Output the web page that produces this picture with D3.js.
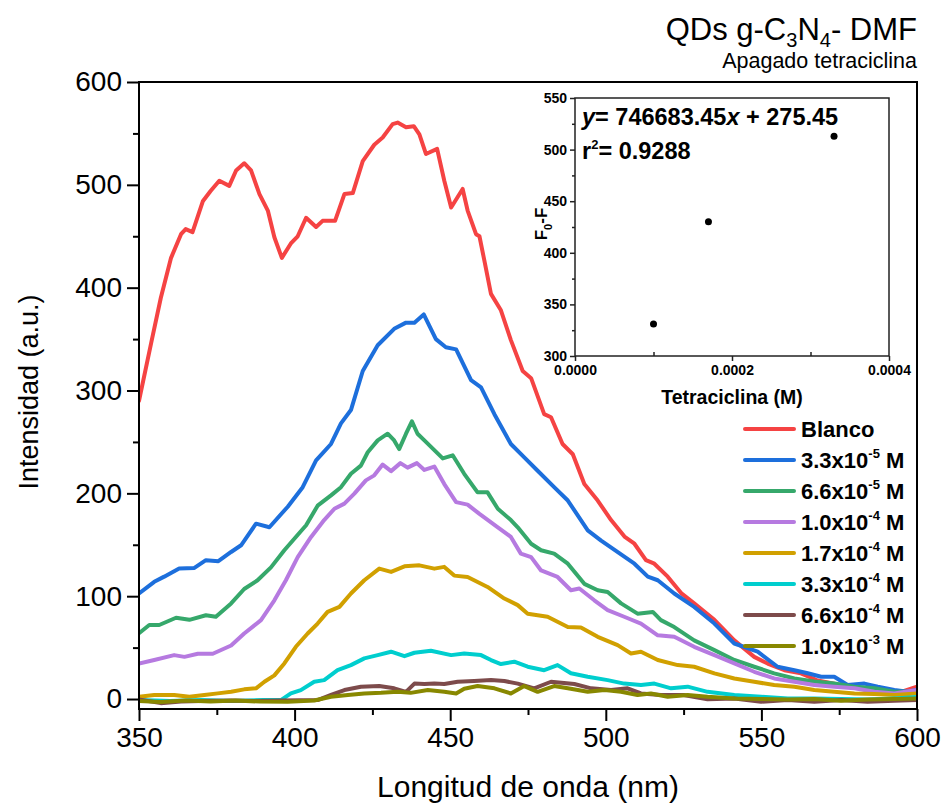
<!DOCTYPE html>
<html>
<head>
<meta charset="utf-8">
<script src="https://cdn.jsdelivr.net/npm/d3@7"></script>
<style>
  body { margin: 0; background: #fff; }
  svg { display: block; font-family: "Liberation Sans", Arial, sans-serif; }
</style>
</head>
<body>
<div id="chart"></div>
<script>
// series: [wavelength nm, intensity]
const blanco = [[350,290],[353.9,346],[357,390],[360.3,429],[363.5,452],[365,457],[367.2,454],[370.5,484],[373,494],[375.8,504],[379,499],[381.2,514],[383.8,521],[386,514],[388.7,491],[391.4,475],[393.5,449],[395.9,429],[398.8,443],[401,450],[403.7,468],[406.9,459],[409,465],[413,465],[416,491],[418.7,492],[421.9,523],[425.6,539],[428.3,546],[431.5,559],[433.1,560.5],[435.8,556],[438.3,557],[440.1,549],[442.2,530],[445.8,535],[448.1,504],[450.3,478],[454,496],[455.6,475],[458.3,452],[459.4,450],[461,426],[463.1,394],[466.3,378],[469.5,349],[473.3,319],[476,312],[480.2,277],[482.4,274],[486.1,248],[489.4,238],[493.1,209],[497.4,193],[501.7,174],[506,158],[509.2,151],[512.9,135],[515.6,131.6],[519.9,119],[524.2,103],[528.4,93],[534.9,77],[541.3,57],[547.7,41],[552,34.5],[557.4,28],[562.7,25],[568.1,18],[573.4,15],[578.8,12],[584.1,10],[589.5,7],[594.9,7],[600,12]];
const c33e5 = [[350,102.6],[354.9,114],[358.1,119],[362.9,127],[367.8,127.5],[371.5,135],[375.5,134],[379.6,143],[382.8,149.5],[387.6,170.5],[391.9,167],[397.8,187],[402.6,206],[406.9,232],[411.7,248],[414.9,268],[418.1,281],[421.9,319],[426.7,344],[432,360],[435.8,366],[438.5,366],[441.5,374],[445.4,350],[448.6,342],[451.9,340],[456.7,310],[459.9,303],[464.2,277],[469.5,248],[473.8,235],[478.1,222],[483.4,206],[487.8,193],[494.2,164],[498.5,154],[502.8,145],[509.2,131.6],[513.5,119],[516.7,115.5],[522,102.6],[528.4,89.6],[534.9,73.4],[541.3,54],[548.8,46],[555.2,31.4],[560.6,28],[564.9,25],[569.2,21.7],[573.4,21.7],[577.7,13.6],[583.1,15],[587.4,12],[592.7,8.7],[597,7],[600,9]];
const c66e5 = [[350,64],[353.3,72],[356.5,72],[361.9,79],[366.2,77],[371.5,81.5],[374.7,80],[379.6,93],[383.8,107],[388.1,115.5],[392.4,128],[396.7,144.7],[400.4,157.6],[403.7,169],[407.4,188],[411.7,198],[414.9,206],[418.1,219],[421.3,227],[423.5,240],[426.7,251.5],[429.9,258],[432,251.5],[433.6,243],[435.8,258],[437.7,270],[439.5,258],[441.7,251.5],[444.9,242],[447.6,234],[450.8,237],[454.5,219],[458.8,201],[462,201],[465.3,185],[469.5,174],[471.7,167],[476,151],[479.2,144.7],[483.4,141.4],[487.8,131.6],[493.1,112],[497.4,105.8],[500.6,104],[504.9,93],[510.2,83],[515.1,84.7],[517.7,76.7],[522,70],[528.4,57],[534.9,47.6],[541.3,38],[547.7,31.4],[554.1,25],[560.6,20],[567,17],[573.4,15],[579.9,12],[586.3,10.4],[592.7,7],[600,7]];
const c10e4 = [[350,34.6],[354.9,38],[361.3,42.7],[364.6,41],[368.9,44],[373.7,44],[379.6,52],[383.8,63.7],[389.2,76.7],[393.5,96],[397.2,115.5],[401,138],[405.3,157.6],[409.5,174],[412.8,185],[416,190],[419.2,199.7],[422.9,212.6],[425.6,217.5],[428.3,228],[431,221.6],[434,229.4],[436.3,225],[439.3,229.4],[441.7,222.8],[444.9,226],[448.1,209],[451.9,191.5],[455.6,189],[459.4,180],[465.3,167],[469.5,157.6],[472.7,141.4],[476,138],[479.2,125],[484.5,118.7],[488.8,105.8],[491.5,107.5],[496.3,96],[500.6,86.4],[505.9,80],[511.3,73.4],[516.7,62],[522,60.5],[528.4,50.8],[534.9,42.7],[541.3,34.6],[547.7,26.5],[554.1,20],[560.6,16.8],[567,13.6],[573.4,12],[579.9,10.4],[586.3,7],[592.7,5.4],[600,8.7]];
const c17e4 = [[350,2.2],[354.9,4],[361.3,4],[366.2,2.2],[371,4],[375.3,5.5],[379.6,7],[383.8,9.4],[387.6,10.4],[390.3,16.8],[393.5,23],[396.7,34.6],[400.4,50.8],[404.2,63.7],[407.4,73.4],[410.6,84.7],[414.4,89.6],[418.1,102.6],[422.4,115.5],[427.2,126.8],[431,123.6],[435.3,129],[440.1,130],[444.9,126.8],[448.1,128.5],[451.3,120],[455.6,118.7],[462,109],[467.4,97.7],[471.7,91.3],[474.9,83],[481.3,80],[487.8,70],[492,69.6],[497.4,60.5],[503.8,52.4],[508.1,44.3],[511.3,46],[516.7,37.9],[523.1,33],[528.4,31.4],[534.9,25],[541.3,20],[547.7,16.8],[554.1,13.6],[560.6,12],[567,8.7],[573.4,7],[579.9,5.4],[586.3,4.8],[592.7,3.9],[600,5.4]];
const c33e4 = [[350,-1],[360,-2],[370,-1],[380,-2],[390,-1],[395.6,-1],[398.8,5.5],[402,8.7],[406.3,16.8],[409.5,18.4],[413.8,28],[418.1,33],[422.4,39.5],[426.7,42.7],[431,46],[435.3,41.7],[438.5,45],[443.8,47],[450.3,42.7],[454.5,44.3],[459.9,42.7],[463.1,37.9],[466.3,34],[470.6,36.3],[474.9,31.4],[480.2,28],[484.5,33],[488.8,25],[494.2,21.7],[500.6,18.4],[505.9,15],[511.3,13.6],[515.6,15],[521,10.4],[526.3,12],[532.7,7],[541.3,3.9],[549.9,2.2],[558.5,0.6],[567,0.6],[575.6,0],[584.1,-0.5],[592.7,0.6],[600,2]];
const c66e4 = [[350,-0.5],[357,-4],[363.5,-2.5],[370,-2],[379.6,-1.5],[387,-2],[395.6,-1.5],[407.4,-1],[411.7,4],[416,8.7],[421.3,12],[427.2,12.6],[432,10.4],[435.8,7],[438.5,15],[441.7,14.6],[444.9,15],[448.1,14.6],[452.4,16.8],[457.7,17.5],[463.1,18.4],[467.4,17.5],[471.7,15],[477,10.4],[482.4,16.8],[489.9,14.6],[495.3,10.4],[501.7,8.7],[507,10.4],[511.3,5.4],[517.7,3.9],[525,3.9],[532.7,-0.3],[541.3,0.6],[549.9,-2.6],[558.5,-1],[567,-2.6],[575.6,-1],[584.1,-2.6],[592.7,-1.6],[600,-1]];
const c10e3 = [[350,-2],[357,-3],[365,-1.5],[373,-2.5],[381,-1.5],[389,-2.5],[397.8,-2.6],[406.3,-1.5],[411.7,2.2],[417.1,4],[422.4,5.4],[427.8,6],[433.1,7],[437.3,6],[442.8,8.7],[448.1,7],[451.9,5.4],[454.5,10],[458.8,12.6],[464.2,10.4],[469.5,5.4],[473.8,12.6],[478.1,7],[483.4,12.6],[487.8,10.4],[494.2,7],[499.6,8.7],[504.9,7],[510.2,3.9],[514.5,5.4],[519.9,2.2],[526.3,3.9],[532.7,2.2],[541.3,0.6],[549.9,0],[558.5,-0.5],[567,0],[575.6,-1.6],[584.1,-0.5],[592.7,0],[600,0.6]];

const seriesData = [blanco, c33e5, c66e5, c10e4, c17e4, c33e4, c66e4, c10e3];
const seriesBase = ["Blanco", "3.3x10", "6.6x10", "1.0x10", "1.7x10", "3.3x10", "6.6x10", "1.0x10"];
const seriesExp = ["", "-5", "-5", "-4", "-4", "-4", "-4", "-3"];
const seriesColor = ["#f54343", "#1d6fdc", "#36a86b", "#b67ae0", "#d1a000", "#00cece", "#7d4b4b", "#888800"];

const xTicks = [350, 400, 450, 500, 550, 600];
const xMinor = [375, 425, 475, 525, 575];
const yTicks = [0, 100, 200, 300, 400, 500, 600];
const yMinor = [50, 150, 250, 350, 450, 550];

// inset: quenching fit
const insetConc = [0.0001, 0.00017, 0.00033];
const insetF0F = [331, 430, 513];
const insetXTicks = [0, 0.0002, 0.0004];
const insetXMinor = [0.0001, 0.0003];
const insetYTicks = [300, 350, 400, 450, 500, 550];
const insetYMinor = [325, 375, 425, 475, 525];

const W = 941, H = 807;
const svg = d3.select("#chart").append("svg").attr("width", W).attr("height", H);

const plot = { left: 139, right: 917, top: 82, bottom: 709 };
const x = d3.scaleLinear().domain([350, 600]).range([plot.left, plot.right]);
const y = d3.scaleLinear().domain([-9.7, 600]).range([plot.bottom, plot.top]);

svg.append("defs").append("clipPath").attr("id", "clip")
    .append("rect")
    .attr("x", plot.left).attr("y", plot.top)
    .attr("width", plot.right - plot.left).attr("height", plot.bottom - plot.top);

// curves
const line = d3.line().x(d => x(d[0])).y(d => y(d[1]));
const curves = svg.append("g").attr("clip-path", "url(#clip)");
seriesData.forEach((s, i) => {
    curves.append("path")
        .datum(s)
        .attr("d", line)
        .attr("fill", "none")
        .attr("stroke", seriesColor[i])
        .attr("stroke-width", 4)
        .attr("stroke-linejoin", "round")
        .attr("stroke-linecap", "round");
});

// frame
svg.append("rect")
    .attr("x", plot.left).attr("y", plot.top)
    .attr("width", plot.right - plot.left).attr("height", plot.bottom - plot.top)
    .attr("fill", "none").attr("stroke", "#000").attr("stroke-width", 2);

// main axes
const gx = svg.append("g").attr("transform", `translate(0,${plot.bottom})`)
    .call(d3.axisBottom(x).tickValues(xTicks).tickSize(12).tickPadding(6).tickFormat(d3.format("d")));
const gxm = svg.append("g").attr("transform", `translate(0,${plot.bottom})`)
    .call(d3.axisBottom(x).tickValues(xMinor).tickSize(6).tickFormat(""));
const gy = svg.append("g").attr("transform", `translate(${plot.left},0)`)
    .call(d3.axisLeft(y).tickValues(yTicks).tickSize(12).tickPadding(5).tickFormat(d3.format("d")));
const gym = svg.append("g").attr("transform", `translate(${plot.left},0)`)
    .call(d3.axisLeft(y).tickValues(yMinor).tickSize(6).tickFormat(""));
[gx, gxm, gy, gym].forEach(g => {
    g.select(".domain").remove();
    g.selectAll("line").attr("stroke", "#000").attr("stroke-width", 2);
});
[gx, gy].forEach(g => g.selectAll("text").attr("font-size", 28).attr("fill", "#000")
    .attr("font-family", "'Liberation Sans', Arial, sans-serif"));

// axis titles
svg.append("text")
    .attr("x", (plot.left + plot.right) / 2).attr("y", 797)
    .attr("text-anchor", "middle").attr("font-size", 30)
    .text("Longitud de onda (nm)");
svg.append("text")
    .attr("transform", "translate(38,392) rotate(-90)")
    .attr("text-anchor", "middle").attr("font-size", 27)
    .text("Intensidad (a.u.)");

// title
const title = svg.append("text").attr("x", 917).attr("y", 40)
    .attr("text-anchor", "end").attr("font-size", 31);
title.append("tspan").text("QDs g-C");
title.append("tspan").attr("font-size", 20).attr("dy", 7).text("3");
title.append("tspan").attr("dy", -7).text("N");
title.append("tspan").attr("font-size", 20).attr("dy", 7).text("4");
title.append("tspan").attr("dy", -7).text("- DMF");
svg.append("text").attr("x", 917).attr("y", 68)
    .attr("text-anchor", "end").attr("font-size", 21.5)
    .text("Apagado tetraciclina");

// legend
const legend = svg.append("g").attr("font-weight", "bold").attr("font-size", 22);
seriesData.forEach((s, i) => {
    const ly = 429 + i * 31;
    legend.append("line")
        .attr("x1", 745).attr("x2", 794).attr("y1", ly).attr("y2", ly)
        .attr("stroke", seriesColor[i]).attr("stroke-width", 4).attr("stroke-linecap", "round");
    const t = legend.append("text").attr("x", 801).attr("y", ly + 8);
    t.append("tspan").text(seriesBase[i]);
    if (seriesExp[i]) {
        t.append("tspan").attr("font-size", 13).attr("dy", -10).text(seriesExp[i]);
        t.append("tspan").attr("dy", 10).text(" M");
    }
});

// inset
const ins = { left: 575, right: 889, top: 98, bottom: 356 };
const ix = d3.scaleLinear().domain([0, 0.0004]).range([ins.left, ins.right]);
const iy = d3.scaleLinear().domain([300, 550]).range([ins.bottom, ins.top]);
const inset = svg.append("g");
inset.append("rect")
    .attr("x", ins.left).attr("y", ins.top)
    .attr("width", ins.right - ins.left).attr("height", ins.bottom - ins.top)
    .attr("fill", "#fff").attr("stroke", "#222").attr("stroke-width", 1.5);

const igx = inset.append("g").attr("transform", `translate(0,${ins.bottom})`)
    .call(d3.axisBottom(ix).tickValues(insetXTicks).tickSize(5).tickPadding(4).tickFormat(d3.format(".4f")));
const igxm = inset.append("g").attr("transform", `translate(0,${ins.bottom})`)
    .call(d3.axisTop(ix).tickValues(insetXMinor).tickSize(4).tickFormat(""));
const igy = inset.append("g").attr("transform", `translate(${ins.left},0)`)
    .call(d3.axisLeft(iy).tickValues(insetYTicks).tickSize(5).tickPadding(3).tickFormat(d3.format("d")));
const igym = inset.append("g").attr("transform", `translate(${ins.left},0)`)
    .call(d3.axisLeft(iy).tickValues(insetYMinor).tickSize(3).tickFormat(""));
[igx, igxm, igy, igym].forEach(g => {
    g.select(".domain").remove();
    g.selectAll("line").attr("stroke", "#222").attr("stroke-width", 1.5);
});
[igx, igy].forEach(g => g.selectAll("text").attr("font-size", 14).attr("font-weight", "bold")
    .attr("fill", "#000").attr("font-family", "'Liberation Sans', Arial, sans-serif"));

inset.selectAll("circle.pt")
    .data(insetConc)
    .join("circle")
    .attr("class", "pt")
    .attr("cx", d => ix(d))
    .attr("cy", (d, i) => iy(insetF0F[i]))
    .attr("r", 3.5)
    .attr("fill", "#000");

const eq = inset.append("text").attr("x", 582).attr("y", 125)
    .attr("font-size", 23.5).attr("font-weight", "bold");
eq.append("tspan").attr("font-style", "italic").text("y");
eq.append("tspan").text("= 746683.45");
eq.append("tspan").attr("font-style", "italic").text("x");
eq.append("tspan").text(" + 275.45");
const r2 = inset.append("text").attr("x", 582).attr("y", 159)
    .attr("font-size", 23.5).attr("font-weight", "bold");
r2.append("tspan").text("r");
r2.append("tspan").attr("font-size", 13).attr("dy", -10).text("2");
r2.append("tspan").attr("dy", 10).text("= 0.9288");

inset.append("text")
    .attr("x", (ins.left + ins.right) / 2).attr("y", 404)
    .attr("text-anchor", "middle").attr("font-size", 19.5).attr("font-weight", "bold")
    .text("Tetraciclina (M)");
const fl = inset.append("text")
    .attr("transform", "translate(547,224) rotate(-90)")
    .attr("text-anchor", "middle").attr("font-size", 17).attr("font-weight", "bold");
fl.append("tspan").text("F");
fl.append("tspan").attr("font-size", 11).attr("dy", 5).text("0");
fl.append("tspan").attr("dy", -5).text("-F");
</script>
</body>
</html>
